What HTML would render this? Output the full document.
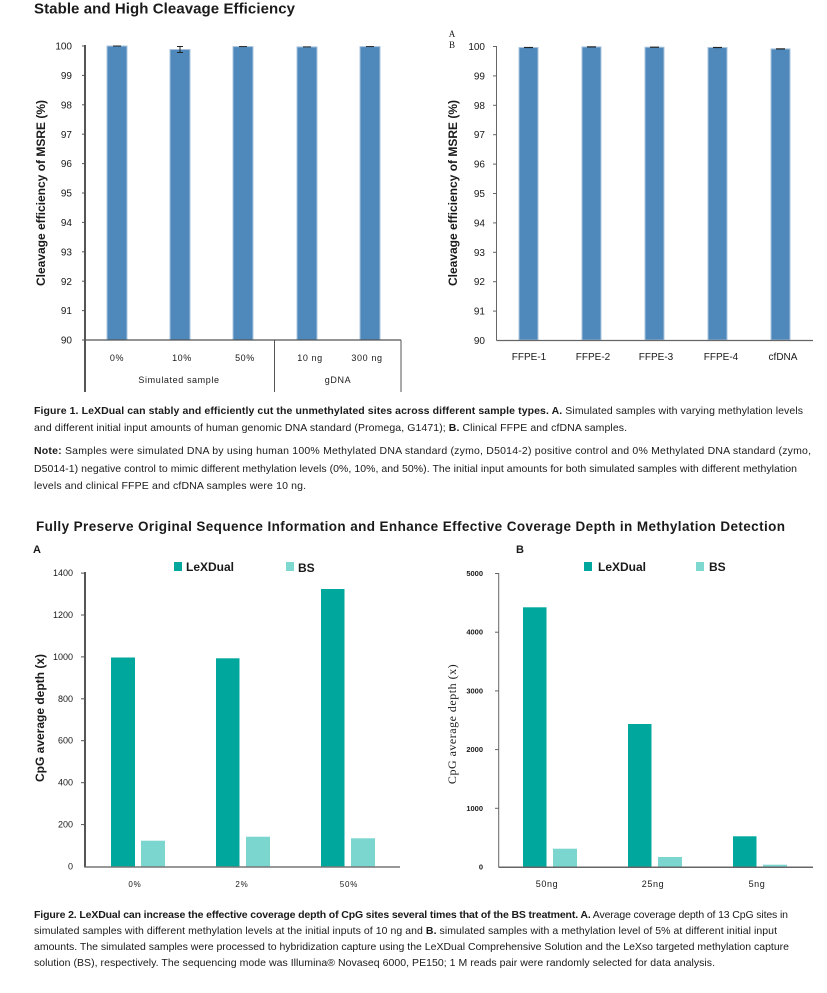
<!DOCTYPE html>
<html>
<head>
<meta charset="utf-8">
<style>
html,body{margin:0;padding:0;background:#fff;}
svg{display:block;}
text{font-family:"Liberation Sans",Arial,sans-serif;fill:#1a1a1a;}
.serif{font-family:"Liberation Serif","Noto Serif CJK SC",serif;}
.tick{font-size:10px;}
.cap{font-size:10.5px;fill:#222;}
.b{font-weight:bold;}
</style>
</head>
<body>
<svg width="827" height="993" viewBox="0 0 827 993" xmlns="http://www.w3.org/2000/svg">
<rect width="827" height="993" fill="#fff"/>

<!-- ===== Figure 1 title ===== -->
<text x="34" y="13.5" font-size="15" font-weight="bold" textLength="261" lengthAdjust="spacing">Stable and High Cleavage Efficiency</text>

<!-- ===== Figure 1 Left chart ===== -->
<g>
  <text transform="translate(45,193) rotate(-90)" text-anchor="middle" font-size="12" font-weight="bold">Cleavage efficiency of MSRE (%)</text>
  <g class="tick" text-anchor="end">
    <text x="72" y="49.5">100</text>
    <text x="72" y="79">99</text>
    <text x="72" y="108.4">98</text>
    <text x="72" y="137.8">97</text>
    <text x="72" y="167.2">96</text>
    <text x="72" y="196.6">95</text>
    <text x="72" y="226">94</text>
    <text x="72" y="255.4">93</text>
    <text x="72" y="284.8">92</text>
    <text x="72" y="314.2">91</text>
    <text x="72" y="343.6">90</text>
  </g>
  <g fill="#4f88bb" stroke="#a9c3de" stroke-width="1">
    <rect x="107" y="46" width="20" height="294"/>
    <rect x="170" y="49.5" width="20" height="290.5"/>
    <rect x="233" y="46.6" width="20" height="293.4"/>
    <rect x="297" y="46.9" width="20" height="293.1"/>
    <rect x="360" y="46.6" width="20" height="293.4"/>
  </g>
  <g stroke="#222" stroke-width="1">
    <line x1="113" y1="46" x2="121" y2="46"/>
    <line x1="180" y1="46.5" x2="180" y2="52.5"/>
    <line x1="177" y1="46.5" x2="183" y2="46.5"/>
    <line x1="177" y1="52.5" x2="183" y2="52.5"/>
    <line x1="239" y1="46.6" x2="247" y2="46.6"/>
    <line x1="303" y1="46.9" x2="311" y2="46.9"/>
    <line x1="366" y1="46.6" x2="374" y2="46.6"/>
  </g>
  <g stroke="#555">
    <line x1="85" y1="45" x2="85" y2="392" stroke-width="2"/>
    <line x1="82" y1="46" x2="85" y2="46" stroke-width="1"/>
    <line x1="82" y1="75.4" x2="85" y2="75.4" stroke-width="1"/>
    <line x1="82" y1="104.8" x2="85" y2="104.8" stroke-width="1"/>
    <line x1="82" y1="134.2" x2="85" y2="134.2" stroke-width="1"/>
    <line x1="82" y1="163.6" x2="85" y2="163.6" stroke-width="1"/>
    <line x1="82" y1="193" x2="85" y2="193" stroke-width="1"/>
    <line x1="82" y1="222.4" x2="85" y2="222.4" stroke-width="1"/>
    <line x1="82" y1="251.8" x2="85" y2="251.8" stroke-width="1"/>
    <line x1="82" y1="281.2" x2="85" y2="281.2" stroke-width="1"/>
    <line x1="82" y1="310.6" x2="85" y2="310.6" stroke-width="1"/>
    <line x1="82" y1="340" x2="85" y2="340" stroke-width="1"/>
    <line x1="85" y1="340" x2="401" y2="340" stroke-width="1.3"/>
    <line x1="274.5" y1="340" x2="274.5" y2="392" stroke-width="1"/>
    <line x1="401" y1="340" x2="401" y2="392" stroke-width="1"/>
  </g>
  <g font-size="9" text-anchor="middle" letter-spacing="0.6">
    <text x="117" y="361">0%</text>
    <text x="182" y="361">10%</text>
    <text x="245" y="361">50%</text>
    <text x="310" y="361">10 ng</text>
    <text x="367" y="361">300 ng</text>
    <text x="179" y="383">Simulated sample</text>
    <text x="338" y="383">gDNA</text>
  </g>
</g>

<!-- ===== Figure 1 Right chart ===== -->
<g>
  <text class="serif" x="452" y="37" font-size="9" text-anchor="middle">A</text>
  <text class="serif" x="452" y="48" font-size="9" text-anchor="middle">B</text>
  <text transform="translate(457,193) rotate(-90)" text-anchor="middle" font-size="12" font-weight="bold">Cleavage efficiency of MSRE (%)</text>
  <g class="tick" text-anchor="end">
    <text x="485" y="50">100</text>
    <text x="485" y="79.4">99</text>
    <text x="485" y="108.8">98</text>
    <text x="485" y="138.2">97</text>
    <text x="485" y="167.6">96</text>
    <text x="485" y="197">95</text>
    <text x="485" y="226.4">94</text>
    <text x="485" y="255.8">93</text>
    <text x="485" y="285.2">92</text>
    <text x="485" y="314.6">91</text>
    <text x="485" y="344">90</text>
  </g>
  <g fill="#4f88bb" stroke="#a9c3de" stroke-width="1">
    <rect x="519" y="47.5" width="19" height="292.5"/>
    <rect x="582" y="46.9" width="19" height="293.1"/>
    <rect x="645" y="47.2" width="19" height="292.8"/>
    <rect x="708" y="47.5" width="19" height="292.5"/>
    <rect x="771" y="48.9" width="19" height="291.1"/>
  </g>
  <g stroke="#222" stroke-width="1.2">
    <line x1="524" y1="47.5" x2="533" y2="47.5"/>
    <line x1="587" y1="46.9" x2="596" y2="46.9"/>
    <line x1="650" y1="47.2" x2="659" y2="47.2"/>
    <line x1="713" y1="47.5" x2="722" y2="47.5"/>
    <line x1="776" y1="48.9" x2="785" y2="48.9"/>
  </g>
  <g stroke="#666" stroke-width="1">
    <line x1="496.5" y1="46" x2="496.5" y2="340.5"/>
    <line x1="493" y1="46.5" x2="496.5" y2="46.5"/>
    <line x1="493" y1="75.9" x2="496.5" y2="75.9"/>
    <line x1="493" y1="105.3" x2="496.5" y2="105.3"/>
    <line x1="493" y1="134.7" x2="496.5" y2="134.7"/>
    <line x1="493" y1="164.1" x2="496.5" y2="164.1"/>
    <line x1="493" y1="193.5" x2="496.5" y2="193.5"/>
    <line x1="493" y1="222.9" x2="496.5" y2="222.9"/>
    <line x1="493" y1="252.3" x2="496.5" y2="252.3"/>
    <line x1="493" y1="281.7" x2="496.5" y2="281.7"/>
    <line x1="493" y1="311.1" x2="496.5" y2="311.1"/>
    <line x1="496.5" y1="340.5" x2="813" y2="340.5" stroke-width="1.3"/>
  </g>
  <g font-size="10" text-anchor="middle">
    <text x="529" y="360">FFPE-1</text>
    <text x="593" y="360">FFPE-2</text>
    <text x="656" y="360">FFPE-3</text>
    <text x="721" y="360">FFPE-4</text>
    <text x="783" y="360">cfDNA</text>
  </g>
</g>

<!-- ===== Figure 1 caption ===== -->
<g class="cap">
  <text x="34" y="414" textLength="769" lengthAdjust="spacing"><tspan class="b">Figure 1. LeXDual can stably and efficiently cut the unmethylated sites across different sample types. A.</tspan> Simulated samples with varying methylation levels</text>
  <text x="34" y="431" textLength="593" lengthAdjust="spacing">and different initial input amounts of human genomic DNA standard (Promega, G1471); <tspan class="b">B.</tspan> Clinical FFPE and cfDNA samples.</text>
  <text x="34" y="454" textLength="777" lengthAdjust="spacing"><tspan class="b">Note:</tspan> Samples were simulated DNA by using human 100% Methylated DNA standard (zymo, D5014-2) positive control and 0% Methylated DNA standard (zymo,</text>
  <text x="34" y="472" textLength="763" lengthAdjust="spacing">D5014-1) negative control to mimic different methylation levels (0%, 10%, and 50%). The initial input amounts for both simulated samples with different methylation</text>
  <text x="34" y="489" textLength="272" lengthAdjust="spacing">levels and clinical FFPE and cfDNA samples were 10 ng.</text>
</g>

<!-- ===== Figure 2 title ===== -->
<text x="36" y="531" font-size="13.5" font-weight="bold" textLength="749" lengthAdjust="spacing">Fully Preserve Original Sequence Information and Enhance Effective Coverage Depth in Methylation Detection</text>

<!-- ===== Figure 2A ===== -->
<g>
  <text x="33" y="553" font-size="11" font-weight="bold">A</text>
  <rect x="174" y="562" width="8" height="9" fill="#00a79d"/>
  <text x="186" y="571" font-size="12" font-weight="bold">LeXDual</text>
  <rect x="286" y="562" width="8" height="9" fill="#7dd8d0"/>
  <text x="298" y="572" font-size="12" font-weight="bold">BS</text>

  <text transform="translate(44,718) rotate(-90)" text-anchor="middle" font-size="12" font-weight="bold">CpG average depth (x)</text>

  <g font-size="9" text-anchor="end">
    <text x="73" y="869.5">0</text>
    <text x="73" y="827.6">200</text>
    <text x="73" y="785.7">400</text>
    <text x="73" y="743.7">600</text>
    <text x="73" y="701.8">800</text>
    <text x="73" y="659.9">1000</text>
    <text x="73" y="618">1200</text>
    <text x="73" y="576.1">1400</text>
  </g>

  <g fill="#00a79d">
    <rect x="111" y="657.5" width="24" height="209"/>
    <rect x="216" y="658.3" width="23.5" height="208.2"/>
    <rect x="321" y="589" width="23.5" height="277.5"/>
  </g>
  <g fill="#7bd6cf">
    <rect x="141" y="840.7" width="24" height="25.8"/>
    <rect x="246" y="836.7" width="24" height="29.8"/>
    <rect x="351" y="838.3" width="24" height="28.2"/>
  </g>

  <g stroke="#555">
    <line x1="85" y1="572" x2="85" y2="867.5" stroke-width="2"/>
    <line x1="81" y1="573.1" x2="85" y2="573.1" stroke-width="1"/>
    <line x1="81" y1="615" x2="85" y2="615" stroke-width="1"/>
    <line x1="81" y1="656.9" x2="85" y2="656.9" stroke-width="1"/>
    <line x1="81" y1="698.8" x2="85" y2="698.8" stroke-width="1"/>
    <line x1="81" y1="740.7" x2="85" y2="740.7" stroke-width="1"/>
    <line x1="81" y1="782.7" x2="85" y2="782.7" stroke-width="1"/>
    <line x1="81" y1="824.6" x2="85" y2="824.6" stroke-width="1"/>
    <line x1="85" y1="867" x2="400" y2="867" stroke="#777" stroke-width="1.5"/>
  </g>

  <g font-size="8" text-anchor="middle" letter-spacing="0.8" fill="#333">
    <text x="135" y="887">0%</text>
    <text x="242" y="887">2%</text>
    <text x="349" y="887">50%</text>
  </g>
</g>

<!-- ===== Figure 2B ===== -->
<g>
  <text x="516" y="553" font-size="11" font-weight="bold">B</text>
  <rect x="584" y="562" width="8" height="9" fill="#00a79d"/>
  <text x="598" y="571" font-size="12" font-weight="bold">LeXDual</text>
  <rect x="696" y="562" width="8" height="9" fill="#7dd8d0"/>
  <text x="709" y="571" font-size="12" font-weight="bold">BS</text>

  <text class="serif" transform="translate(456,724) rotate(-90)" text-anchor="middle" font-size="12" letter-spacing="0.5">CpG average depth (x)</text>

  <g font-size="7.5" font-weight="bold" text-anchor="end" fill="#444">
    <text x="483" y="869.5">0</text>
    <text x="483" y="810.8">1000</text>
    <text x="483" y="752.1">2000</text>
    <text x="483" y="693.4">3000</text>
    <text x="483" y="634.7">4000</text>
    <text x="483" y="576">5000</text>
  </g>

  <g fill="#00a79d">
    <rect x="523" y="607.3" width="23.5" height="259.7"/>
    <rect x="628" y="724" width="23.5" height="143"/>
    <rect x="733" y="836.3" width="23.5" height="30.7"/>
  </g>
  <g fill="#7bd6cf">
    <rect x="553" y="848.7" width="24" height="18.3"/>
    <rect x="658" y="857" width="24" height="10"/>
    <rect x="763" y="864.7" width="24" height="2.3"/>
  </g>

  <g stroke="#666" stroke-width="1">
    <line x1="498.7" y1="573" x2="498.7" y2="867.5"/>
    <line x1="495" y1="573.5" x2="498.7" y2="573.5"/>
    <line x1="495" y1="632.2" x2="498.7" y2="632.2"/>
    <line x1="495" y1="690.9" x2="498.7" y2="690.9"/>
    <line x1="495" y1="749.6" x2="498.7" y2="749.6"/>
    <line x1="495" y1="808.3" x2="498.7" y2="808.3"/>
    <line x1="498.7" y1="867.3" x2="813" y2="867.3" stroke-width="1.5"/>
  </g>

  <g class="serif" font-size="9" text-anchor="middle" letter-spacing="0.6" fill="#333">
    <text x="547" y="887">50ng</text>
    <text x="653" y="887">25ng</text>
    <text x="757" y="887">5ng</text>
  </g>
</g>

<!-- ===== Figure 2 caption ===== -->
<g class="cap">
  <text x="34" y="918" textLength="754" lengthAdjust="spacing"><tspan class="b">Figure 2. LeXDual can increase the effective coverage depth of CpG sites several times that of the BS treatment. A.</tspan> Average coverage depth of 13 CpG sites in</text>
  <text x="34" y="934" textLength="743" lengthAdjust="spacing">simulated samples with different methylation levels at the initial inputs of 10 ng and <tspan class="b">B.</tspan> simulated samples with a methylation level of 5% at different initial input</text>
  <text x="34" y="950" textLength="755" lengthAdjust="spacing">amounts. The simulated samples were processed to hybridization capture using the LeXDual Comprehensive Solution and the LeXso targeted methylation capture</text>
  <text x="34" y="966" textLength="681" lengthAdjust="spacing">solution (BS), respectively. The sequencing mode was Illumina® Novaseq 6000, PE150; 1 M reads pair were randomly selected for data analysis.</text>
</g>
</svg>
</body>
</html>
